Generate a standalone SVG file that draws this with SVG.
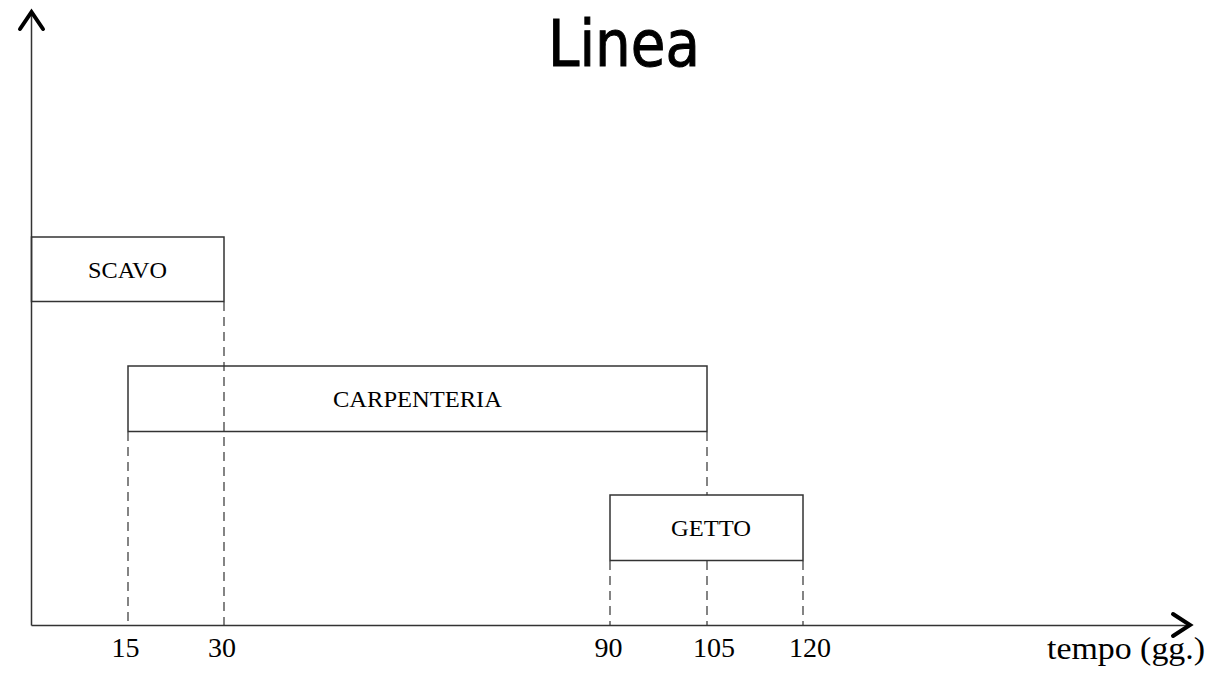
<svg xmlns="http://www.w3.org/2000/svg" width="1211" height="674" viewBox="0 0 1211 674">
  <style>
    .axis { stroke: #333; stroke-width: 1.5; fill: none; }
    .head { stroke: #000; stroke-width: 4; fill: none; stroke-linecap: round; stroke-linejoin: miter; }
    .box { fill: #fff; stroke: #333; stroke-width: 1.5; }
    .guide { stroke: #333; stroke-width: 1.2; stroke-dasharray: 9 6; fill: none; }
    .lbl { font-family: "Liberation Serif", "Times New Roman", serif; font-size: 23px; fill: #000; text-anchor: middle; }
    .tick { font-family: "Liberation Serif", "Times New Roman", serif; font-size: 28px; fill: #000; text-anchor: middle; }
    .title { font-family: "DejaVu Sans", "Noto Sans", sans-serif; font-size: 64px; fill: #000; stroke: #000; stroke-width: 1; text-anchor: middle; }
  </style>

  <text class="title" x="624" y="66" textLength="152" lengthAdjust="spacingAndGlyphs">Linea</text>

  <g id="connectors">
    <!-- dashed time guides -->
    <line class="guide" x1="224" y1="302" x2="224" y2="625"/>
    <line class="guide" x1="128" y1="432" x2="128" y2="625"/>
    <line class="guide" x1="707" y1="432" x2="707" y2="495"/>
    <line class="guide" x1="707" y1="561" x2="707" y2="625"/>
    <line class="guide" x1="610" y1="561" x2="610" y2="625"/>
    <line class="guide" x1="803" y1="561" x2="803" y2="625"/>
  </g>

  <g id="scavo">
    <rect class="box" x="31.5" y="237" width="192.5" height="64.5"/>
    <text class="lbl" x="127.5" y="278" textLength="79" lengthAdjust="spacingAndGlyphs">SCAVO</text>
  </g>

  <g id="carpenteria">
    <rect class="box" x="128" y="366" width="579" height="65.5" style="fill:none"/>
    <text class="lbl" x="417.5" y="407" textLength="169" lengthAdjust="spacingAndGlyphs">CARPENTERIA</text>
  </g>

  <g id="getto">
    <rect class="box" x="610" y="495" width="193" height="65.5"/>
    <text class="lbl" x="711" y="536" textLength="80" lengthAdjust="spacingAndGlyphs">GETTO</text>
  </g>

  <g id="axes">
    <line class="axis" x1="31.5" y1="13" x2="31.5" y2="625.5"/>
    <line class="axis" x1="31.5" y1="625.5" x2="1189" y2="625.5"/>
    <polyline class="head" points="20,29 31.5,12 43,29"/>
    <polyline class="head" points="1173,614 1190,625 1173,636"/>
  </g>

  <g id="ticks">
    <text class="tick" x="125.5" y="657">15</text>
    <text class="tick" x="222" y="657">30</text>
    <text class="tick" x="608.5" y="657">90</text>
    <text class="tick" x="714" y="657">105</text>
    <text class="tick" x="810" y="657">120</text>
    <text class="tick" x="1205" y="659" style="font-size:31px;text-anchor:end" textLength="158" lengthAdjust="spacingAndGlyphs">tempo (gg.)</text>
  </g>
</svg>
